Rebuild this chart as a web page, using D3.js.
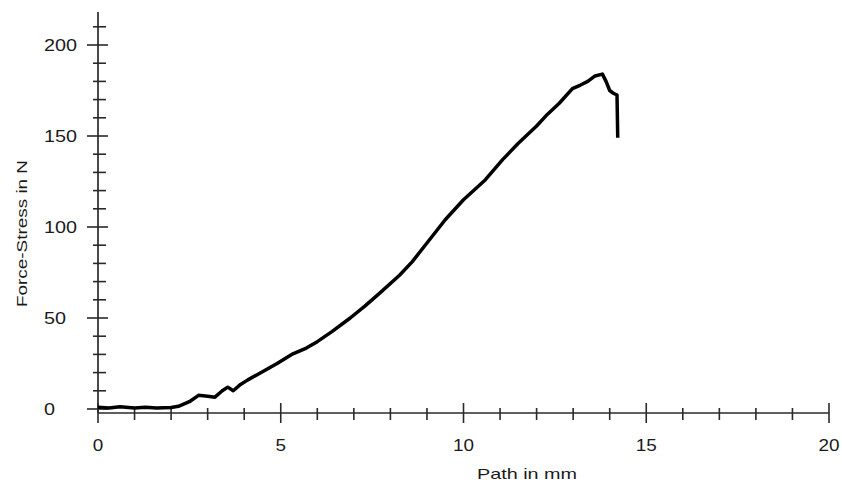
<!DOCTYPE html>
<html>
<head>
<meta charset="utf-8">
<script src="https://cdn.jsdelivr.net/npm/d3@7"></script>
<style>
  body { margin: 0; background: #fff; overflow: hidden; }
  svg { display: block; }
  text { font-family: "Liberation Sans", Arial, sans-serif; fill: #1a1a1a; }
</style>
</head>
<body>
<div id="chart"></div>
<script>
const pathMm = [0, 0.3, 0.6, 1.0, 1.3, 1.6, 2.0, 2.2, 2.5, 2.75, 3.0, 3.2, 3.4, 3.55, 3.7, 3.9, 4.1, 4.5, 4.9,
  5.3, 5.7, 6.0, 6.4, 6.9, 7.3, 7.7, 8.25, 8.6, 9.07, 9.5, 10.0, 10.6, 11.07, 11.5, 12.0, 12.3, 12.62,
  12.98, 13.2, 13.4, 13.6, 13.8, 13.9, 14.0, 14.1, 14.2, 14.22];
const forceN = [1, 0.5, 1.2, 0.5, 1.0, 0.5, 0.8, 1.5, 4, 7.5, 7, 6.5, 10, 12, 10, 13.5, 16, 20.5, 25,
  30, 33.5, 37, 42.5, 50, 56.5, 63.5, 73.5, 81, 93, 104, 115, 126, 137, 146, 155.5, 162, 168,
  176, 178, 180, 183, 184, 180, 175, 173.5, 172.5, 149];

const xMajor = [0, 5, 10, 15, 20];
const yMajor = [0, 50, 100, 150, 200];

const width = 842;
const height = 490;

const x = d3.scaleLinear().domain([0, 20]).range([98, 829]);
const y = d3.scaleLinear().domain([0, 200]).range([409, 45]);

const svg = d3.select("#chart")
  .append("svg")
  .attr("width", width)
  .attr("height", height);

const axisColor = "#2a2a2a";
const x0 = x(0);
const yAxisPos = 413; // x axis sits a little under the zero line

// y axis line
svg.append("line")
  .attr("x1", x0).attr("x2", x0)
  .attr("y1", 12).attr("y2", yAxisPos)
  .attr("stroke", axisColor).attr("stroke-width", 1.7);

// x axis line
svg.append("line")
  .attr("x1", x0).attr("x2", x(20))
  .attr("y1", yAxisPos).attr("y2", yAxisPos)
  .attr("stroke", axisColor).attr("stroke-width", 1.7);

// y ticks, minor every 10
const yTicks = d3.range(0, 211, 10);
svg.selectAll(".ytick")
  .data(yTicks)
  .enter()
  .append("line")
  .attr("x1", d => d % 50 === 0 ? x0 - 11 : x0 - 5)
  .attr("x2", d => d % 50 === 0 ? x0 + 10 : x0 + 8)
  .attr("y1", d => y(d)).attr("y2", d => y(d))
  .attr("stroke", axisColor).attr("stroke-width", 1.6);

// x ticks, minor every 1
const xTicks = d3.range(0, 21, 1);
svg.selectAll(".xtick")
  .data(xTicks)
  .enter()
  .append("line")
  .attr("x1", d => x(d)).attr("x2", d => x(d))
  .attr("y1", d => d % 5 === 0 ? yAxisPos - 10 : yAxisPos - 5)
  .attr("y2", d => d % 5 === 0 ? yAxisPos + 10 : yAxisPos + 7)
  .attr("stroke", axisColor).attr("stroke-width", 1.6);

// tick labels (the original font is stretched, so fix their widths)
svg.selectAll(".ylabel")
  .data(yMajor)
  .enter()
  .append("text")
  .attr("x", 44)
  .attr("y", d => y(d))
  .attr("dy", "0.36em")
  .attr("font-size", 16)
  .attr("textLength", d => String(d).length * 11)
  .attr("lengthAdjust", "spacingAndGlyphs")
  .text(d => d);

svg.selectAll(".xlabel")
  .data(xMajor)
  .enter()
  .append("text")
  .attr("x", d => x(d))
  .attr("y", 451)
  .attr("text-anchor", "middle")
  .attr("font-size", 16)
  .attr("textLength", d => String(d).length * 10.5)
  .attr("lengthAdjust", "spacingAndGlyphs")
  .text(d => d);

// axis titles
svg.append("text")
  .attr("x", 477)
  .attr("y", 479)
  .attr("font-size", 15)
  .attr("textLength", 100)
  .attr("lengthAdjust", "spacingAndGlyphs")
  .text("Path in mm");

svg.append("text")
  .attr("transform", "translate(27,307) rotate(-90)")
  .attr("font-size", 15)
  .attr("textLength", 147)
  .attr("lengthAdjust", "spacingAndGlyphs")
  .text("Force-Stress in N");

// the curve
const points = pathMm.map((p, i) => [p, forceN[i]]);
const line = d3.line()
  .x(d => x(d[0]))
  .y(d => y(d[1]));

svg.append("path")
  .datum(points)
  .attr("d", line)
  .attr("fill", "none")
  .attr("stroke", "#000")
  .attr("stroke-width", 3.5)
  .attr("stroke-linejoin", "round");
</script>
</body>
</html>
